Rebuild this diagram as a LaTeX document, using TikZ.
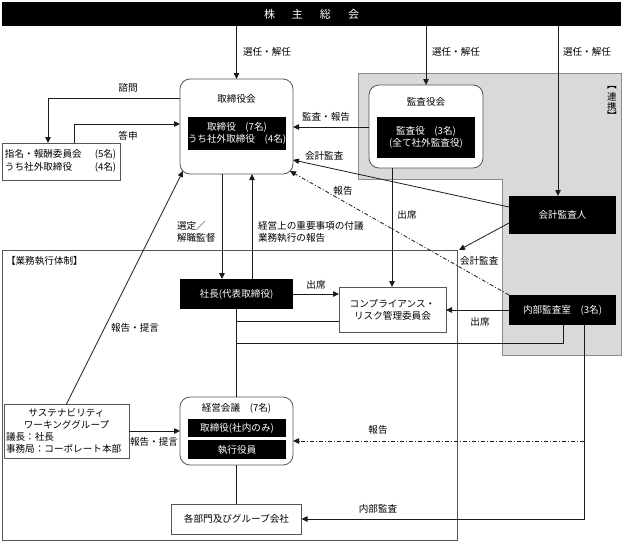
\documentclass[tikz,border=0pt]{standalone}
\usepackage{fontspec}
\setmainfont{Noto Sans CJK JP}
\usetikzlibrary{arrows.meta,calc}
\definecolor{graybg}{HTML}{D9D9D9}
\definecolor{grayline}{HTML}{8C8C8C}
\definecolor{boxline}{HTML}{555555}
\definecolor{linec}{HTML}{1A1A1A}
\begin{document}
\begin{tikzpicture}[x=1pt,y=-1pt,
  every node/.style={inner sep=0pt,outer sep=0pt,font=\fontsize{9.6}{12}\selectfont},
  blackbox/.style={fill=black,text=white,align=center},
  whitebox/.style={draw=boxline,fill=white,line width=0.8pt,align=center},
  roundbox/.style={whitebox,rounded corners=10pt},
  lbl/.style={align=center},
  ln/.style={line width=0.8pt,draw=linec},
  arr/.style={ln,-{Triangle[length=6pt,width=5.5pt]}},
  ddash/.style={dash pattern=on 4pt off 2pt on 1pt off 2pt}]
\useasboundingbox (0,0) rectangle (623,541);

% gray cooperation region
\fill[graybg,draw=grayline,line width=0.6pt] (358,73) -- (621,73) -- (621,355) -- (502,355) -- (502,179) -- (358,179) -- cycle;

% business execution frame
\node[draw=boxline,line width=0.8pt,minimum width=455pt,minimum height=290pt] (biz) at (229.5,395) {};
\node[anchor=west] (bizlbl) at (6,261) {【業務執行体制】};

% cooperation label (vertical)
\node (rk1) at (612,88) {︻};
\node (rk2) at (612,97) {連};
\node (rk3) at (612,106.5) {携};
\node (rk4) at (612,115) {︼};

% top bar
\node[fill=black,text=white,minimum width=619pt,minimum height=24pt,font=\fontsize{11}{13}\selectfont] (top) at (311.5,14) {株\hspace{17pt}主\hspace{17pt}総\hspace{17pt}会};

% board of directors
\node[roundbox,minimum width=113pt,minimum height=95pt] (tori) at (236.5,126.5) {};
\node (toriT) at (236.5,99) {取締役会};
\node[blackbox,minimum width=98pt,minimum height=33pt] (toriin) at (237,133.5) {取締役　(7名)\\うち社外取締役　(4名)};

% nomination committee
\node[whitebox,minimum width=118pt,minimum height=37pt] (comm) at (61,161.5) {};
\node[anchor=west] (commT) at (5,161.5) {\renewcommand\arraystretch{1.12}\begin{tabular}{@{}l@{\hspace{13pt}}l@{}}指名・報酬委員会 & (5名)\\うち社外取締役 & (4名)\end{tabular}};

% audit board
\node[roundbox,minimum width=114pt,minimum height=83pt] (kansa) at (426,126.5) {};
\node (kansaT) at (426,102) {監査役会};
\node[blackbox,minimum width=98pt,minimum height=41pt] (kansain) at (426,137.5) {監査役　(3名)\\(全て社外監査役)};

% accounting auditor, internal audit
\node[blackbox,minimum width=107pt,minimum height=38pt] (kaikei) at (562.5,215) {会計監査人};
\node[blackbox,minimum width=107pt,minimum height=30pt] (naibu) at (562.5,310) {内部監査室　(3名)};

% president
\node[blackbox,minimum width=113pt,minimum height=30pt] (shacho) at (236.5,294) {社長(代表取締役)};

% compliance committee
\node[whitebox,minimum width=107pt,minimum height=45pt] (comp) at (392.5,309.5) {コンプライアンス・\\リスク管理委員会};

% management meeting
\node[roundbox,minimum width=113pt,minimum height=68pt] (keiei) at (236.5,431) {};
\node (keieiT) at (236.5,408) {経営会議　(7名)};
\node[blackbox,minimum width=98pt,minimum height=18pt] (keiei1) at (237,428) {取締役(社内のみ)};
\node[blackbox,minimum width=98pt,minimum height=19pt] (keiei2) at (237,449.5) {執行役員};

% sustainability WG
\node[whitebox,minimum width=125pt,minimum height=54pt] (sus) at (66.5,431) {};
\node[align=center] (susT) at (66.5,419) {サステナビリティ\\ワーキンググループ};
\node[anchor=west,align=left] (susB) at (6,443) {議長：社長\\事務局：コーポレート本部};

% departments
\node[whitebox,minimum width=130pt,minimum height=30pt] (kakubu) at (236.5,519) {各部門及びグループ会社};

% helper coordinates
\coordinate (cShimon) at (48,98);
\coordinate (cToshin) at (74,124);
\coordinate (cKH) at (0,127);
\coordinate (cKA) at (0,207);
\coordinate (cKB) at (0,160);
\coordinate (cSh1) at (392,0);
\coordinate (cJ1) at (563,343);
\coordinate (cNR) at (584,0);
\coordinate (cRep) at (0,441);
\coordinate (cSentei) at (222,0);
\coordinate (cFugi) at (252,0);
\coordinate (cComp) at (0,321);
\coordinate (cSelK) at (558,0);

% connectors
\draw[arr] (top.south -| tori.north) -- (tori.north);
\draw[arr] (top.south -| kansa.north) -- (kansa.north);
\draw[arr] (top.south -| cSelK) -- (kaikei.north -| cSelK);
\draw[arr] (tori.west |- cShimon) -| (comm.north -| cShimon);
\draw[arr] (comm.north -| cToshin) |- (tori.west |- cToshin);
\draw[arr] (kansa.west |- cKH) -- (tori.east |- cKH);
\draw[arr] (kaikei.west |- cKA) -- (tori.east |- cKB);
\draw[arr,ddash] (naibu.north west) -- ([xshift=-3pt,yshift=3pt]tori.south east);
\draw[arr] (kansa.south -| cSh1) -- (comp.north -| cSh1);
\draw[arr] ([yshift=-8pt]kaikei.west) -- ([xshift=2pt]biz.north east);
\draw[arr] (naibu.west) -- (comp.east |- naibu.west);
\draw[ln] (naibu.south -| cJ1) |- (shacho.south |- cJ1);
\draw[arr] (naibu.south -| cNR) |- (kakubu.east);
\draw[arr,ddash] (cNR |- cRep) -- (keiei.east |- cRep);
\draw[arr] (tori.south -| cSentei) -- (shacho.north -| cSentei);
\draw[arr] (shacho.north -| cFugi) -- (tori.south -| cFugi);
\draw[arr] (shacho.east) -- (comp.west |- shacho.east);
\draw[ln] (comp.west |- cComp) -- (shacho.south |- cComp);
\draw[ln] (shacho.south) -- (keiei.north);
\draw[ln] (keiei.south) -- (kakubu.north);
\draw[arr] (sus.east) -- (keiei.west);
\draw[arr] (sus.north) -- ([xshift=3pt,yshift=3pt]tori.south west);

% labels
\node[anchor=west] (l1) at (243,52) {選任・解任};
\node[anchor=west] (l2) at (432,52) {選任・解任};
\node[anchor=west] (l3) at (563,52) {選任・解任};
\node (l4) at (128,88) {諮問};
\node (l5) at (128,136) {答申};
\node (l6) at (326,117) {監査・報告};
\node[anchor=west] (l7) at (305,156) {会計監査};
\node (l8) at (343,191) {報告};
\node (l9) at (407,215) {出席};
\node[anchor=west] (l10) at (460,261) {会計監査};
\node (l11) at (480,322) {出席};
\node (l12) at (316,285) {出席};
\node[anchor=west,align=left] (l13) at (177,232) {選定／\\解職監督};
\node[anchor=west,align=left] (l14) at (258,232) {経営上の重要事項の付議\\業務執行の報告};
\node (l15) at (135,328) {報告・提言};
\node (l16) at (154,442) {報告・提言};
\node (l17) at (378,430) {報告};
\node (l18) at (378,509) {内部監査};
\end{tikzpicture}
\end{document}
